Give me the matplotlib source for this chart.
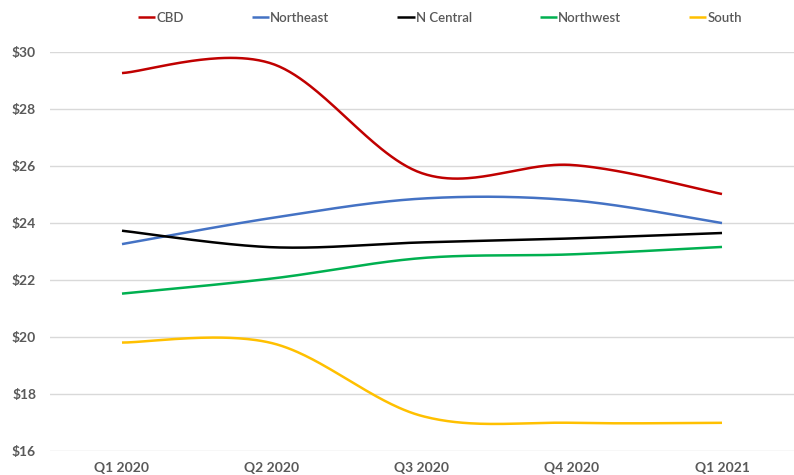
import numpy as np
import matplotlib
matplotlib.use("Agg")
import matplotlib.pyplot as plt

quarters = ["Q1 2020", "Q2 2020", "Q3 2020", "Q4 2020", "Q1 2021"]
cbd = [29.27, 29.60, 25.75, 26.04, 25.02]
northeast = [23.26, 24.18, 24.86, 24.80, 24.00]
n_central = [23.73, 23.15, 23.32, 23.46, 23.65]
northwest = [21.52, 22.05, 22.77, 22.90, 23.16]
south = [19.80, 19.78, 17.22, 16.98, 16.98]

series = [
    ("CBD", cbd, "#C00000"),
    ("Northeast", northeast, "#4472C4"),
    ("N Central", n_central, "#000000"),
    ("Northwest", northwest, "#00B050"),
    ("South", south, "#FFC000"),
]

y_ticks = [16, 18, 20, 22, 24, 26, 28, 30]


def smooth(xs, ys, n=60):
    """Cubic Bezier smoothing through every point (spreadsheet-style)."""
    xs = np.asarray(xs, float)
    ys = np.asarray(ys, float)
    px = np.concatenate([[xs[0]], xs, [xs[-1]]])
    py = np.concatenate([[ys[0]], ys, [ys[-1]]])
    out_x, out_y = [], []
    t = np.linspace(0, 1, n)
    for i in range(1, len(px) - 2):
        p0 = np.array([px[i], py[i]])
        p3 = np.array([px[i + 1], py[i + 1]])
        c1 = p0 + (np.array([px[i + 1], py[i + 1]]) - np.array([px[i - 1], py[i - 1]])) / 6
        c2 = p3 - (np.array([px[i + 2], py[i + 2]]) - np.array([px[i], py[i]])) / 6
        b = ((1 - t) ** 3)[:, None] * p0 + (3 * (1 - t) ** 2 * t)[:, None] * c1 \
            + (3 * (1 - t) * t ** 2)[:, None] * c2 + (t ** 3)[:, None] * p3
        out_x.extend(b[:, 0])
        out_y.extend(b[:, 1])
    return np.array(out_x), np.array(out_y)


plt.rcParams["font.family"] = ["Lato", "DejaVu Sans"]

fig = plt.figure(figsize=(7.94, 4.75), dpi=100)
ax = fig.add_axes([50 / 794, 24.3 / 475, 747 / 794, 398.4 / 475])

x = np.arange(len(quarters))
for name, vals, color in series:
    sx, sy = smooth(x, vals)
    ax.plot(sx, sy, color=color, lw=1.8, label=name, solid_capstyle="butt")

ax.set_xlim(-0.48, 4.5)
ax.set_ylim(16, 30)
ax.set_yticks(y_ticks)
ax.set_yticklabels([f"${v}" for v in y_ticks])
ax.set_xticks(x)
ax.set_xticklabels(quarters)

for spine in ax.spines.values():
    spine.set_visible(False)
ax.grid(axis="y", color="#D9D9D9", lw=1)
ax.set_axisbelow(True)
ax.tick_params(axis="both", length=0, colors="#595959", labelsize=10)
ax.tick_params(axis="y", pad=10)
ax.tick_params(axis="x", pad=8)
for lbl in ax.get_xticklabels() + ax.get_yticklabels():
    lbl.set_fontweight("bold")

leg = fig.legend(loc="center", bbox_to_anchor=(440 / 794, 0.963), ncol=5, frameon=False,
                 prop={"size": 9.5, "weight": "semibold"}, handlelength=1.3,
                 handletextpad=0.08, columnspacing=5.15, labelcolor="#595959")

fig.savefig("out.png", dpi=100)
